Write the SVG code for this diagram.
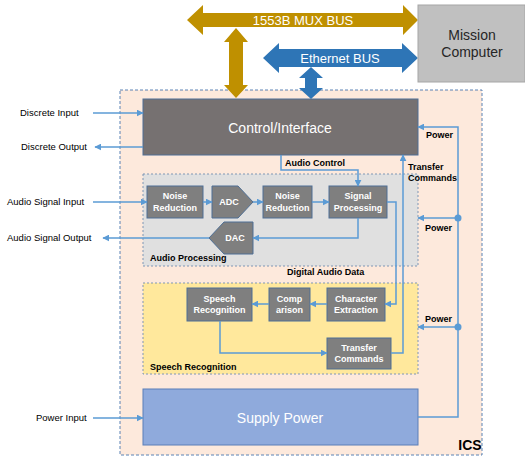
<svg xmlns="http://www.w3.org/2000/svg" width="525" height="458" viewBox="0 0 525 458">
<defs>
<marker id="ah" viewBox="0 0 10 10" refX="9" refY="5" markerWidth="7" markerHeight="7" markerUnits="userSpaceOnUse" orient="auto">
<path d="M0,0 L10,5 L0,10 z" fill="#5b9bd5"/>
</marker>
<style>
.conn{fill:none;stroke:#5b9bd5;stroke-width:1.5}
.arr{marker-end:url(#ah)}
.node{fill:#7f7f7f;stroke:#4f6f95;stroke-width:1}
.nt{font-family:"Liberation Sans",Arial,sans-serif;font-size:9px;font-weight:bold;fill:#ffffff;text-anchor:middle}
.lab{font-family:"Liberation Sans",Arial,sans-serif;font-size:9.5px;fill:#000000}
.bl{font-family:"Liberation Sans",Arial,sans-serif;font-size:9px;font-weight:bold;fill:#000000}
.big{font-family:"Liberation Sans",Arial,sans-serif;font-size:14px;fill:#ffffff;text-anchor:middle}
.bus{font-family:"Liberation Sans",Arial,sans-serif;font-size:13px;fill:#ffffff;text-anchor:middle}
</style>
</defs>
<g id="ics">
<rect x="120" y="90" width="362" height="365" fill="#fde9dc" stroke="#5a82b4" stroke-width="1" stroke-dasharray="3,2"/>
<text x="470" y="450" font-family="Liberation Sans,Arial,sans-serif" font-size="14" font-weight="bold" text-anchor="middle" fill="#000">ICS</text>
</g>
<g id="audio-processing">
<rect x="143" y="174" width="275" height="92" fill="#e0e0e0" stroke="#7f96b4" stroke-width="1" stroke-dasharray="2,2"/>
<text class="bl" x="150" y="261">Audio Processing</text>
</g>
<g id="speech-recognition">
<rect x="143" y="283" width="275" height="91" fill="#ffe89c" stroke="#7f96b4" stroke-width="1" stroke-dasharray="2,2"/>
<text class="bl" x="150" y="370">Speech Recognition</text>
</g>
<g id="mux-bus">
<polygon points="187,20 203,5 203,13 403,13 403,5 418,20 403,35 403,27 203,27 203,35" fill="#bf9000"/>
<text class="bus" x="303" y="25">1553B MUX BUS</text>
</g>
<g id="mux-link">
<polygon points="236,28 248,42 243,42 243,85 248,85 236,98 224,85 229,85 229,42 224,42" fill="#bf9000"/>
</g>
<g id="ethernet-bus">
<polygon points="263,58 279,43 279,49 402,49 402,43 418,58 402,73 402,67 279,67 279,73" fill="#2e75b6"/>
<text class="bus" x="340" y="63">Ethernet BUS</text>
</g>
<g id="ethernet-link">
<polygon points="311,67 323,78 317,78 317,88 323,88 311,99 299,88 305,88 305,78 299,78" fill="#2e75b6"/>
</g>
<g id="mission-computer">
<rect x="418" y="5" width="107" height="77" fill="#c0c0c0" stroke="#a6a6a6" stroke-width="1"/>
<text x="472" y="40" font-family="Liberation Sans,Arial,sans-serif" font-size="14" text-anchor="middle" fill="#262626">Mission</text>
<text x="472" y="57" font-family="Liberation Sans,Arial,sans-serif" font-size="14" text-anchor="middle" fill="#262626">Computer</text>
</g>
<g id="control-interface">
<rect x="143" y="99" width="275" height="56" fill="#767171" stroke="#4f6f95" stroke-width="1"/>
<text class="big" x="280" y="133">Control/Interface</text>
</g>
<g id="supply-power">
<rect x="143" y="389" width="275" height="56" fill="#8faadc" stroke="#5b7fb8" stroke-width="1"/>
<text class="big" x="280" y="423">Supply Power</text>
</g>
<g id="noise-reduction-1">
<rect class="node" x="147" y="186" width="56" height="32"/>
<text class="nt" x="175" y="199">Noise</text>
<text class="nt" x="175" y="211">Reduction</text>
</g>
<g id="adc">
<polygon class="node" points="212,186 238,186 253,202 238,218 212,218"/>
<text class="nt" x="229" y="205">ADC</text>
</g>
<g id="noise-reduction-2">
<rect class="node" x="263" y="186" width="49" height="32"/>
<text class="nt" x="287.500" y="199">Noise</text>
<text class="nt" x="287.500" y="211">Reduction</text>
</g>
<g id="signal-processing">
<rect class="node" x="329" y="186" width="58" height="32"/>
<text class="nt" x="358" y="199">Signal</text>
<text class="nt" x="358" y="211">Processing</text>
</g>
<g id="dac">
<polygon class="node" points="209,238 224,222 253,222 253,254 224,254"/>
<text class="nt" x="235" y="241">DAC</text>
</g>
<g id="speech-recognition-node">
<rect class="node" x="187" y="288" width="65" height="33"/>
<text class="nt" x="219.500" y="302">Speech</text>
<text class="nt" x="219.500" y="313">Recognition</text>
</g>
<g id="comparison">
<rect class="node" x="269" y="288" width="41" height="33"/>
<text class="nt" x="289.500" y="302">Comp</text>
<text class="nt" x="289.500" y="313">arison</text>
</g>
<g id="character-extraction">
<rect class="node" x="327" y="288" width="58" height="33"/>
<text class="nt" x="356" y="302">Character</text>
<text class="nt" x="356" y="313">Extraction</text>
</g>
<g id="transfer-commands-node">
<rect class="node" x="327" y="338" width="64" height="31"/>
<text class="nt" x="359" y="351">Transfer</text>
<text class="nt" x="359" y="362">Commands</text>
</g>
<g id="external-labels">
<text class="lab" x="20" y="116">Discrete Input</text>
<text class="lab" x="21" y="150">Discrete Output</text>
<text class="lab" x="7" y="205">Audio Signal Input</text>
<text class="lab" x="7" y="241">Audio Signal Output</text>
<text class="lab" x="36" y="421">Power Input</text>
</g>
<g id="connector-labels">
<text class="bl" x="285" y="166">Audio Control</text>
<text class="bl" x="408" y="170">Transfer</text>
<text class="bl" x="408" y="181">Commands</text>
<text class="bl" x="426" y="138">Power</text>
<text class="bl" x="425" y="231">Power</text>
<text class="bl" x="425" y="322">Power</text>
<text class="bl" x="287" y="275">Digital Audio Data</text>
</g>
<g id="connectors">
<path class="conn arr" d="M93,113 H143"/>
<path class="conn arr" d="M143,147 H95"/>
<path class="conn arr" d="M93,202 H147"/>
<path class="conn arr" d="M203,202 H212"/>
<path class="conn arr" d="M253,202 H263"/>
<path class="conn arr" d="M312,202 H329"/>
<path class="conn arr" d="M358,218 V238 H253"/>
<path class="conn arr" d="M209,238 H103"/>
<path class="conn arr" d="M281,155 V170 H358 V186"/>
<path class="conn arr" d="M387,202 H396 V304 H385"/>
<path class="conn arr" d="M327,304 H310"/>
<path class="conn arr" d="M269,304 H252"/>
<path class="conn arr" d="M220,321 V353 H327"/>
<path class="conn arr" d="M391,353 H403 V155"/>
<path class="conn arr" d="M93,418 H143"/>
<path class="conn arr" d="M418,417 H458 V127 H418"/>
<path class="conn arr" d="M458,218 H418"/>
<path class="conn arr" d="M458,327 H418"/>
<circle cx="458" cy="218" r="3.500" fill="#5b9bd5"/>
<circle cx="458" cy="327" r="3.500" fill="#5b9bd5"/>
</g>
</svg>
